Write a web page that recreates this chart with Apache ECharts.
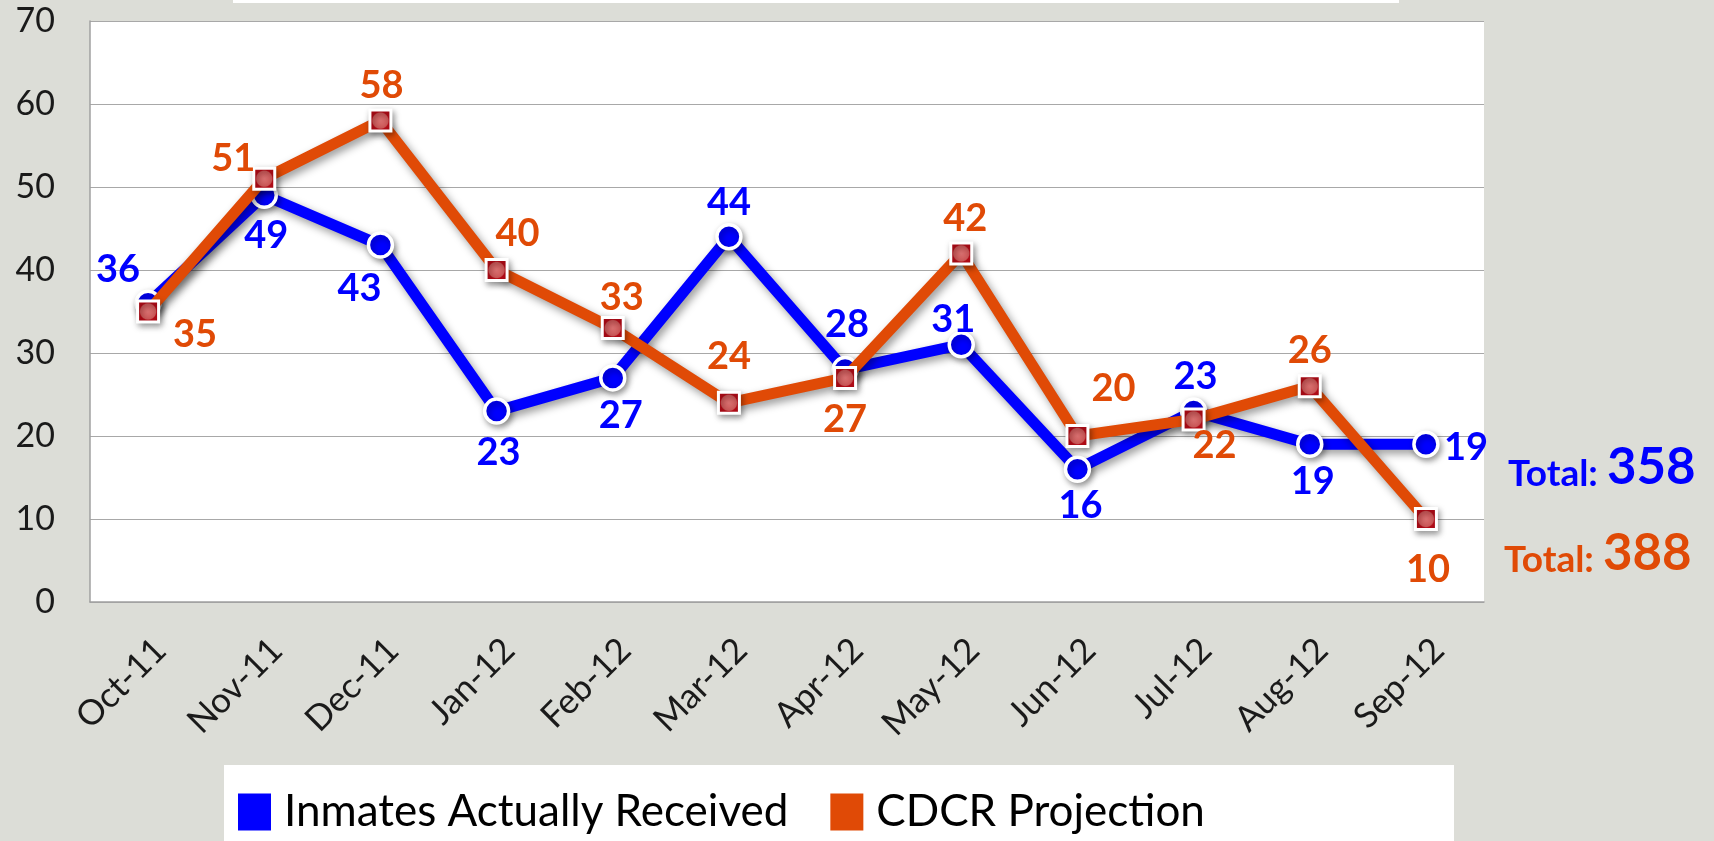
<!DOCTYPE html>
<html>
<head>
<meta charset="utf-8">
<script src="https://cdn.jsdelivr.net/npm/echarts@6/dist/echarts.min.js"></script>
<style>
html,body{margin:0;padding:0;background:#dcddd7;}
#chart{width:1714px;height:841px;}
</style>
</head>
<body>
<div id="chart"></div>
<script>
const categories = ['Oct-11','Nov-11','Dec-11','Jan-12','Feb-12','Mar-12','Apr-12','May-12','Jun-12','Jul-12','Aug-12','Sep-12'];
const inmatesReceived = [36, 49, 43, 23, 27, 44, 28, 31, 16, 23, 19, 19];
const cdcrProjection = [35, 51, 58, 40, 33, 24, 27, 42, 20, 22, 26, 10];
const seriesNames = ['Inmates Actually Received', 'CDCR Projection'];

// label offsets (pixels from the marker centre)
const inmatesLabelOffsets = [[-30,-33],[2,40],[-21,44],[2,42],[8,38],[0,-34],[2,-45],[-8,-25],[3,37],[2,-34],[3,37],[40,3]];
const cdcrLabelOffsets = [[47,23],[-31,-20],[1,-35],[21,-36],[9,-30],[0,-46],[0,42],[4,-35],[36,-47],[21,26],[0,-35],[2,51]];

const BLUE = '#0000ff';
const ORANGE = '#e04a06';
const FONT = 'Lato, "Open Sans", sans-serif';

const sum = a => a.reduce((s, v) => s + v, 0);

function buildData(values, offsets) {
  return values.map((v, i) => ({ value: v, label: { offset: offsets[i] } }));
}

const chart = echarts.init(document.getElementById('chart'));
chart.setOption({
  backgroundColor: '#dcddd7',
  animation: false,
  grid: { left: 90, top: 21, right: 230, bottom: 239, show: true, backgroundColor: '#ffffff', borderWidth: 0 },
  legend: {
    left: 233, top: 785,
    itemWidth: 33, itemHeight: 37, itemGap: 42,
    icon: 'rect',
    textStyle: { fontFamily: FONT, fontSize: 44, color: '#000', padding: [0, 0, 0, 8] },
    data: [
      { name: seriesNames[0], itemStyle: { color: BLUE, borderWidth: 0 } },
      { name: seriesNames[1], itemStyle: { color: ORANGE, borderWidth: 0 } }
    ]
  },
  xAxis: {
    type: 'category',
    data: categories,
    boundaryGap: true,
    axisLine: { show: true, lineStyle: { color: '#a0a0a0', width: 1.5 } },
    axisTick: { show: false },
    axisLabel: { rotate: 45, margin: 30, verticalAlign: 'top', fontFamily: FONT, fontSize: 35, color: '#1a1a1a', interval: 0 }
  },
  yAxis: {
    type: 'value', min: 0, max: 70, interval: 10,
    axisLine: { show: true, lineStyle: { color: '#a0a0a0', width: 1.5 } },
    axisTick: { show: false },
    splitLine: { show: true, lineStyle: { color: '#a8a8a8', width: 1.2 } },
    axisLabel: { margin: 35, fontFamily: FONT, fontSize: 34, color: '#1a1a1a' }
  },
  series: [
    {
      name: seriesNames[0],
      type: 'line',
      data: buildData(inmatesReceived, inmatesLabelOffsets),
      symbol: 'circle',
      symbolSize: 24,
      itemStyle: { color: BLUE, borderColor: '#ffffff', borderWidth: 3.5, shadowColor: 'rgba(0,0,0,0.35)', shadowBlur: 6, shadowOffsetX: 2, shadowOffsetY: 3 },
      lineStyle: { color: BLUE, width: 11, shadowColor: 'rgba(0,0,0,0.4)', shadowBlur: 8, shadowOffsetX: 3, shadowOffsetY: 4 },
      label: { show: true, position: 'inside', fontFamily: FONT, fontWeight: 'bold', fontSize: 38, color: BLUE },
      z: 2
    },
    {
      name: seriesNames[1],
      type: 'line',
      data: buildData(cdcrProjection, cdcrLabelOffsets),
      symbol: 'rect',
      symbolSize: 21,
      itemStyle: {
        color: {
          type: 'radial', x: 0.5, y: 0.5, r: 0.7,
          colorStops: [{ offset: 0, color: '#d87070' }, { offset: 0.45, color: '#cc5858' }, { offset: 0.52, color: '#b80c18' }, { offset: 1, color: '#b80c18' }]
        },
        borderColor: '#ffffff', borderWidth: 3,
        shadowColor: 'rgba(0,0,0,0.35)', shadowBlur: 6, shadowOffsetX: 2, shadowOffsetY: 3
      },
      lineStyle: { color: ORANGE, width: 11, shadowColor: 'rgba(0,0,0,0.4)', shadowBlur: 8, shadowOffsetX: 3, shadowOffsetY: 4 },
      label: { show: true, position: 'inside', fontFamily: FONT, fontWeight: 'bold', fontSize: 38, color: ORANGE },
      z: 3
    }
  ],
  graphic: [
    { type: 'rect', shape: { x: 233, y: 0, width: 1166, height: 3 }, style: { fill: '#ffffff' }, z: -1 },
    { type: 'rect', shape: { x: 224, y: 765, width: 1230, height: 76 }, style: { fill: '#ffffff' }, z: -1 },
    {
      type: 'text', left: 1508, top: 442,
      style: {
        text: '{a|Total: }{b|' + sum(inmatesReceived) + '}',
        rich: {
          a: { fontFamily: FONT, fontWeight: 'bold', fontSize: 37, fill: BLUE, color: BLUE, verticalAlign: 'bottom' },
          b: { fontFamily: FONT, fontWeight: 'bold', fontSize: 51, fill: BLUE, color: BLUE, verticalAlign: 'bottom' }
        }
      }
    },
    {
      type: 'text', left: 1504, top: 528,
      style: {
        text: '{a|Total: }{b|' + sum(cdcrProjection) + '}',
        rich: {
          a: { fontFamily: FONT, fontWeight: 'bold', fontSize: 37, fill: ORANGE, color: ORANGE, verticalAlign: 'bottom' },
          b: { fontFamily: FONT, fontWeight: 'bold', fontSize: 51, fill: ORANGE, color: ORANGE, verticalAlign: 'bottom' }
        }
      }
    }
  ]
});
</script>
</body>
</html>
